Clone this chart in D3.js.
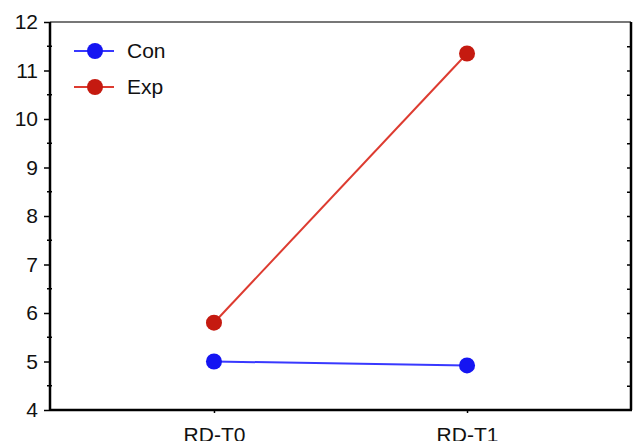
<!DOCTYPE html>
<html>
<head>
<meta charset="utf-8">
<script src="https://cdn.jsdelivr.net/npm/d3@7"></script>
<style>
  body { margin: 0; background: #fff; }
  svg { display: block; font-family: "Liberation Sans", Arial, sans-serif; }
  .lbl { font-size: 21px; fill: #111; }
</style>
</head>
<body>
<svg id="chart" width="636" height="441"></svg>
<script>
// time points and group means
const timepoints = ['RD-T0', 'RD-T1'];
const conValues  = [5.0, 4.92];
const expValues  = [5.8, 11.35];
const yTicks     = [4, 5, 6, 7, 8, 9, 10, 11, 12];

const series = [
  { name: 'Con', values: conValues, line: '#3838ff', dot: '#1515f2' },
  { name: 'Exp', values: expValues, line: '#dd3b30', dot: '#c51a10' }
];

const svg = d3.select('#chart');
const L = 50, R = 631, T = 22, B = 410;

const x = d3.scalePoint().domain(timepoints).range([L, R]).padding(0.648);
const y = d3.scaleLinear().domain([4, 12]).range([B, T]);

// frame: grey top, black left/right/bottom
svg.append('line').attr('x1', L).attr('x2', R).attr('y1', T).attr('y2', T)
  .attr('stroke', '#777').attr('stroke-width', 2);

// left axis: major ticks outside, minor ticks at halves
const yAx = svg.append('g').attr('transform', `translate(${L},0)`)
  .call(d3.axisLeft(y).tickValues(yTicks).tickSize(6).tickPadding(6).tickFormat(d3.format('d')));
yAx.select('.domain').attr('stroke', '#000').attr('stroke-width', 2.5).attr('d', `M0,${T}V${B}`);
yAx.selectAll('.tick line').attr('stroke', '#000').attr('stroke-width', 1.5);
yAx.selectAll('.tick text').attr('fill', '#111').style('font-size', '21px');
yAx.append('g').selectAll('line').data(d3.range(4.5, 12, 1)).join('line')
  .attr('x1', -3).attr('x2', 2).attr('y1', d => y(d)).attr('y2', d => y(d))
  .attr('stroke', '#000').attr('stroke-width', 1.5);

// right axis: small inward ticks every half unit
const rAx = svg.append('g').attr('transform', `translate(${R},0)`)
  .call(d3.axisRight(y).tickValues(d3.range(4.5, 12, 0.5)).tickSize(-4).tickFormat(''));
rAx.select('.domain').attr('stroke', '#000').attr('stroke-width', 2.5).attr('d', `M0,${T}V${B}`);
rAx.selectAll('.tick line').attr('stroke', '#000').attr('stroke-width', 1.5);

// bottom axis
const xAx = svg.append('g').attr('transform', `translate(0,${B})`)
  .call(d3.axisBottom(x).tickSize(3).tickPadding(14));
xAx.select('.domain').attr('stroke', '#000').attr('stroke-width', 2.5).attr('d', `M${L},0H${R + 1}`);
xAx.selectAll('.tick line').attr('stroke', '#000').attr('stroke-width', 1.5);
xAx.selectAll('.tick text').attr('fill', '#111').style('font-size', '21px');

// lines + markers
const line = d3.line().x((d, i) => x(timepoints[i])).y(d => y(d));
series.forEach(s => {
  svg.append('path').attr('d', line(s.values)).attr('fill', 'none')
    .attr('stroke', s.line).attr('stroke-width', 2);
  svg.append('g').selectAll('circle').data(s.values).join('circle')
    .attr('cx', (d, i) => x(timepoints[i])).attr('cy', d => y(d)).attr('r', 8)
    .attr('fill', s.dot);
});

// legend
const leg = svg.append('g').selectAll('g').data(series).join('g')
  .attr('transform', (d, i) => `translate(74,${51 + i * 36})`);
leg.append('line').attr('x1', 0).attr('x2', 40).attr('stroke', d => d.line).attr('stroke-width', 2);
leg.append('circle').attr('cx', 21).attr('r', 8).attr('fill', d => d.dot);
leg.append('text').attr('class', 'lbl').attr('x', 53).attr('dy', '0.35em').text(d => d.name);
</script>
</body>
</html>
